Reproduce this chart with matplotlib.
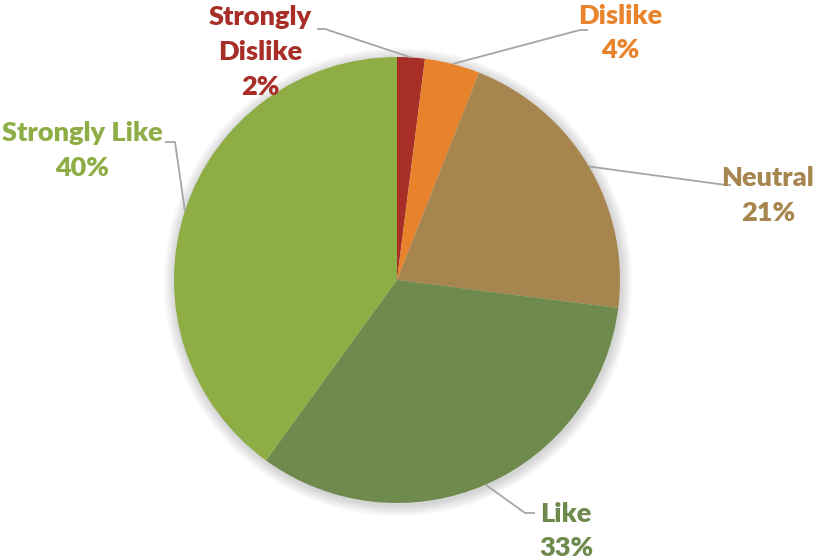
import numpy as np
import matplotlib.pyplot as plt
from matplotlib.patches import Circle

categories = ["Strongly Dislike", "Dislike", "Neutral", "Like", "Strongly Like"]
shares = [2, 4, 21, 33, 40]
label_texts = ["Strongly\nDislike\n2%", "Dislike\n4%", "Neutral\n21%", "Like\n33%", "Strongly Like\n40%"]
colors = ["#A82F28", "#E8832B", "#A7854F", "#6E8B4D", "#8EAD45"]

W, H = 829, 560
cx, cy, R = 397, 280, 223

fig = plt.figure(figsize=(W / 100, H / 100), dpi=100)
ax = fig.add_axes([0, 0, 1, 1])

def up(y):
    return H - y

# soft shadow around the pie
for i in range(14):
    ax.add_patch(Circle((cx + 1, up(cy) - 2), R + 1 + i * 0.8, color="#000000",
                        alpha=0.012, lw=0, zorder=0))

wedges, _ = ax.pie(shares, colors=colors, startangle=90, counterclock=False,
                   center=(cx, up(cy)), radius=R, frame=True,
                   wedgeprops=dict(linewidth=0))
ax.set_xlim(0, W)
ax.set_ylim(0, H)
ax.set_aspect("equal")
ax.axis("off")

# text centre and leader elbow points, in pixel coords measured from the top
label_pos = [(260, 52), (620, 33), (768, 196), (566, 531), (82, 151)]
elbows = [[(317, 29), (325, 29)],
          [(588, 30), (580, 30)],
          [(731, 185), (726, 185)],
          [(535, 513), (525, 513)],
          [(165, 142), (175, 142)]]

cum = np.cumsum([0] + shares[:-1])
for i, (txt, col) in enumerate(zip(label_texts, colors)):
    mid = (cum[i] + shares[i] / 2) / sum(shares) * 360
    ang = np.deg2rad(mid)
    px, py = cx + R * np.sin(ang), cy - R * np.cos(ang)
    pts = elbows[i] + [(px, py)]
    ax.plot([p[0] for p in pts], [up(p[1]) for p in pts], color="#A6A6A6", lw=1.3,
            zorder=3, solid_capstyle="butt")
    x, y = label_pos[i]
    ax.text(x, up(y), txt, color=col, fontsize=19.5, fontweight="heavy",
            family=["Lato", "DejaVu Sans"], ha="center", va="center",
            linespacing=1.55, zorder=4)

fig.savefig("out.png", dpi=100)
